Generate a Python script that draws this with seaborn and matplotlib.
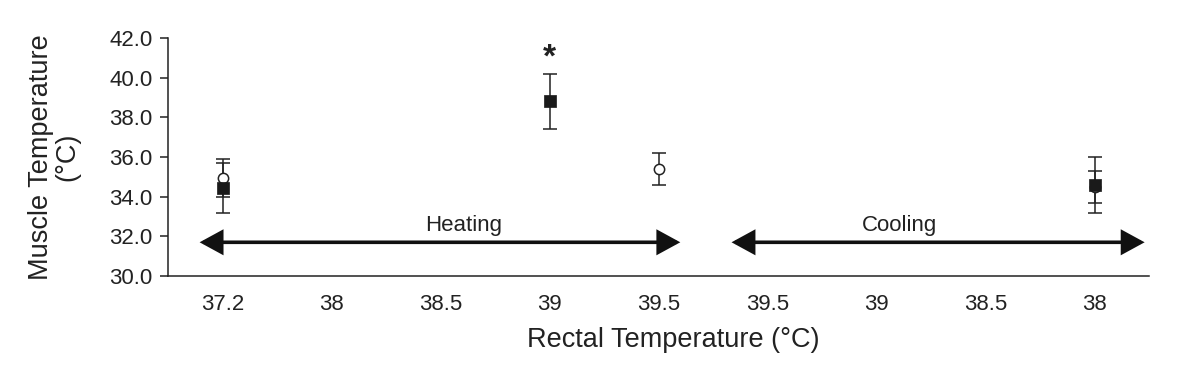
import numpy as np
import pandas as pd
import matplotlib
matplotlib.use("Agg")
import matplotlib.pyplot as plt
import seaborn as sns
from matplotlib.patches import FancyArrowPatch

# ---- data ----
categories = ["37.2", "38", "38.5", "39", "39.5", "39.5", "39", "38.5", "38"]

square_idx = [0, 3, 8]          # filled squares
square_vals = [34.45, 38.8, 34.6]
square_err = [1.25, 1.4, 1.4]

circle_idx = [0, 4, 8]          # open circles
circle_vals = [34.95, 35.4, 34.5]
circle_err = [0.97, 0.8, 0.8]

sig_idx = 1                      # index into square series with asterisk

sns.set_theme(style="white")
plt.rcParams['font.family'] = ['Liberation Sans', 'DejaVu Sans']

INK = "#222222"
fig = plt.figure(figsize=(11.88, 3.72), dpi=100)
ax = fig.add_axes([168/1188, 1-276/372, (1149-168)/1188, (276-38)/372])

sq = pd.DataFrame({"x": square_idx, "y": square_vals, "e": square_err})
ci = pd.DataFrame({"x": circle_idx, "y": circle_vals, "e": circle_err})

# error bars
ax.errorbar(ci["x"], ci["y"], yerr=ci["e"], fmt="none", ecolor=INK,
            elinewidth=1.1, capsize=4.8, capthick=1.1, zorder=2)
ax.errorbar(sq["x"], sq["y"], yerr=sq["e"], fmt="none", ecolor=INK,
            elinewidth=1.1, capsize=4.8, capthick=1.1, zorder=2)

# markers
sns.scatterplot(data=ci, x="x", y="y", marker="o", s=55, facecolor="white",
                edgecolor=INK, linewidth=1.1, ax=ax, zorder=3)
sns.scatterplot(data=sq, x="x", y="y", marker="s", s=78, color="#1a1a1a",
                edgecolor="#1a1a1a", linewidth=0.5, ax=ax, zorder=4)

# asterisk
ax.text(square_idx[sig_idx], square_vals[sig_idx] + square_err[sig_idx] + 0.35, "*",
        ha="center", va="baseline", fontsize=24, fontweight="bold", color=INK)

# arrows
for (x0, x1) in [(-0.21, 4.2), (4.67, 8.46)]:
    arr = FancyArrowPatch((x0, 31.7), (x1, 31.7),
                          arrowstyle="<|-|>,head_length=0.55,head_width=0.3",
                          mutation_scale=24, lw=2.6, color="#111111",
                          joinstyle="miter", capstyle="butt",
                          shrinkA=0, shrinkB=0, zorder=2)
    ax.add_patch(arr)
ax.text(2.21, 32.27, "Heating", ha="center", va="baseline", fontsize=16, color=INK)
ax.text(6.21, 32.27, "Cooling", ha="center", va="baseline", fontsize=16, color=INK)

# axes formatting
ax.set_xlim(-0.5, len(categories) - 0.5)
ax.set_ylim(30, 42)
ax.set_yticks(np.arange(30, 42.1, 2))
ax.set_yticklabels([f"{v:.1f}" for v in np.arange(30, 42.1, 2)])
ax.set_xticks(np.arange(len(categories)))
ax.set_xticklabels(categories)
ax.set_xticks(np.arange(-0.5, len(categories)), minor=True)

ax.tick_params(axis="x", which="major", length=0, pad=13, labelsize=16, labelcolor=INK)
ax.tick_params(axis="x", which="minor", length=5, width=1.1, color=INK, direction="out")
ax.tick_params(axis="y", which="major", length=6, width=1.1, color=INK, direction="out",
               pad=5, labelsize=16, labelcolor=INK, left=True)

for s in ["top", "right"]:
    ax.spines[s].set_visible(False)
for s in ["left", "bottom"]:
    ax.spines[s].set_color(INK)
    ax.spines[s].set_linewidth(1.1)

ax.set_xlabel("Rectal Temperature (°C)", fontsize=19.5, color=INK)
ax.xaxis.set_label_coords((673-168)/981, -0.215)
ax.xaxis.label.set_va("top")
ax.set_ylabel("Muscle Temperature\n(°C)", fontsize=19.5, color=INK, linespacing=1.0)
ax.yaxis.set_label_coords((80-168)/981, 0.5)

fig.savefig("out.png", dpi=100)
